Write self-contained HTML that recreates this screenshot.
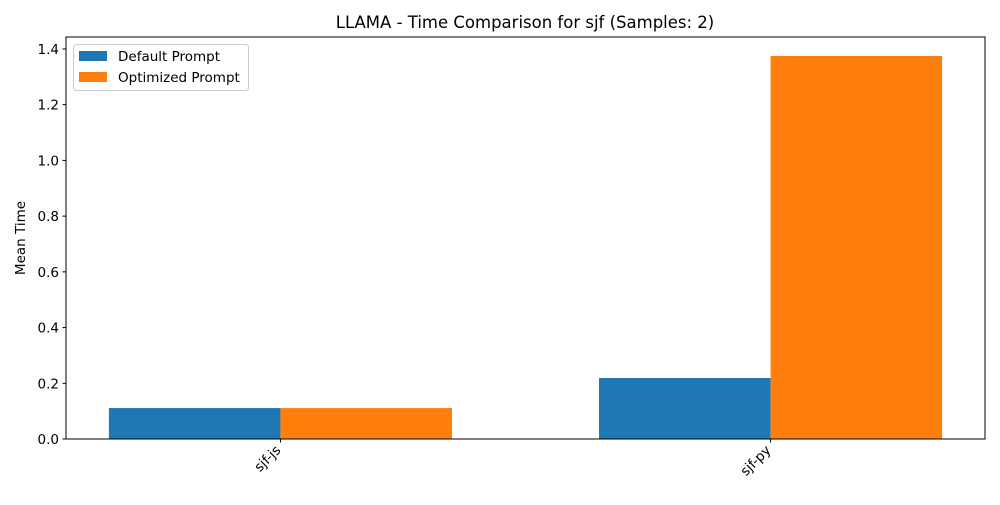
<!DOCTYPE html>
<html><head><meta charset="utf-8"><style>
body{margin:0;background:#fff}
svg{font-family:"DejaVu Sans","Liberation Sans",sans-serif}
</style></head><body>
<svg id="chart" width="1000" height="500">
<rect width="1000" height="500" fill="#fff"/>
<text x="525" y="28" text-anchor="middle" font-size="16.5" fill="#000">LLAMA - Time Comparison for sjf (Samples: 2)</text>
<text transform="translate(25,238) rotate(-90)" text-anchor="middle" font-size="13.5">Mean Time</text>
<g id="bars"></g>
<g id="yticks"></g>
<g id="xticks"></g>
<rect x="66" y="37" width="919" height="402" fill="none" stroke="#000" stroke-width="1"/>
<g>
<rect x="73.5" y="44.5" width="175" height="46" rx="3" fill="#fff" fill-opacity="0.8" stroke="#ccc"/>
<rect x="79" y="51" width="28" height="10" fill="#1f77b4"/>
<text x="118" y="61" font-size="13.5">Default Prompt</text>
<rect x="79" y="72" width="28" height="10" fill="#ff7f0e"/>
<text x="118" y="82" font-size="13.5">Optimized Prompt</text>
</g>
</svg>
<script>
const categories = ["sjf-js", "sjf-py"];
const defaultValues = [0.111, 0.219];
const optimizedValues = [0.111, 1.375];
const yTicks = [0, 0.2, 0.4, 0.6, 0.8, 1.0, 1.2, 1.4];
const yTickLabels = ["0.0","0.2","0.4","0.6","0.8","1.0","1.2","1.4"];

const NS = "http://www.w3.org/2000/svg";
const L = 66, R = 985, T = 37, B = 439;
const xMin = -0.4375, xMax = 1.4375, yMax = 1.443;
const xs = v => L + (v - xMin) / (xMax - xMin) * (R - L);
const ys = v => B - v / yMax * (B - T);
const bw = 0.35;
function mk(tag, attrs, parent) {
  const e = document.createElementNS(NS, tag);
  for (const k in attrs) e.setAttribute(k, attrs[k]);
  parent.appendChild(e);
  return e;
}
const gb = document.getElementById("bars");
categories.forEach((c, i) => {
  let x0 = xs(i - bw), x1 = xs(i), x2 = xs(i + bw);
  let b1 = mk("rect", {x: x0, y: ys(defaultValues[i]), width: x1 - x0, height: B - ys(defaultValues[i]), fill: "#1f77b4"}, gb);
  
  
  let b2 = mk("rect", {x: x1, y: ys(optimizedValues[i]), width: x2 - x1, height: B - ys(optimizedValues[i]), fill: "#ff7f0e"}, gb);
  
  
});
const gy = document.getElementById("yticks");
yTicks.forEach((v, i) => {
  const y = ys(v);
  mk("line", {x1: L - 3.5, x2: L, y1: y, y2: y, stroke: "#000"}, gy);
  const t = mk("text", {x: L - 7, y: y + 5, "text-anchor": "end", "font-size": "13.5"}, gy);
  t.textContent = yTickLabels[i];
  
  
});
const gx = document.getElementById("xticks");
categories.forEach((c, i) => {
  const x = xs(i);
  mk("line", {x1: x, x2: x, y1: B, y2: B + 3.5, stroke: "#000"}, gx);
  const t = mk("text", {transform: `translate(${x + 1},${B + 12}) rotate(-45)`, "text-anchor": "end", "font-size": "13.5"}, gx);
  t.textContent = c;
  
  
});
</script>
</body></html>
